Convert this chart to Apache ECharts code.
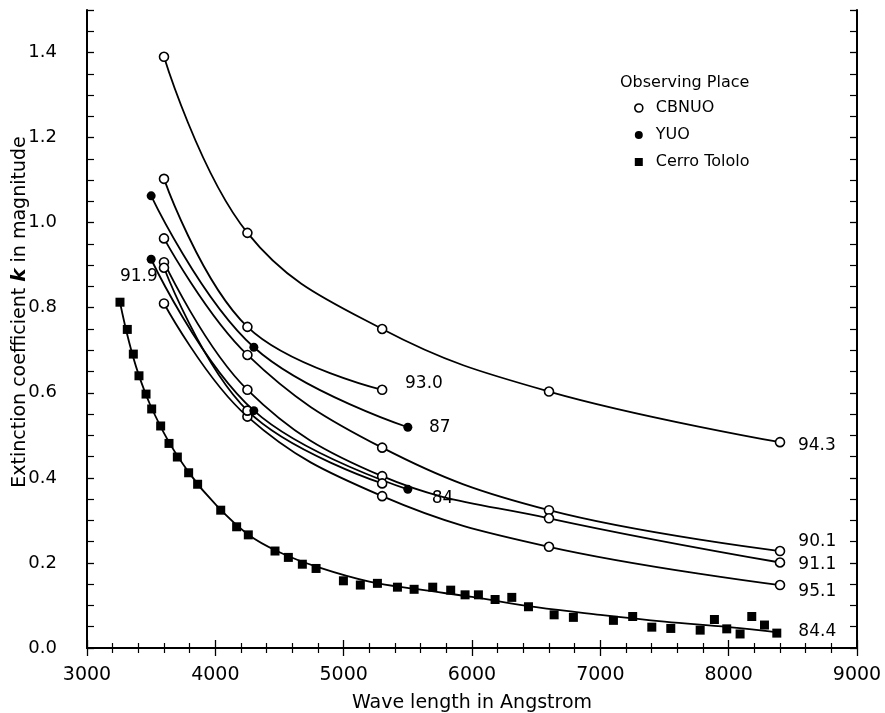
<!DOCTYPE html>
<html>
<head>
<meta charset="utf-8">
<title>Extinction coefficient</title>
<script src="https://cdn.jsdelivr.net/npm/echarts@6/dist/echarts.min.js"></script>
<style>
  html, body { margin: 0; padding: 0; background: #fff; }
  #chart { width: 885px; height: 713px; }
</style>
</head>
<body>
<div id="chart"></div>
<script>
// CBNUO curves (open circles)
const cbnuoWave = [3600, 4250, 5300, 6600, 8400];
const cbnuo943 = [1.39, 0.976, 0.750, 0.603, 0.484];
const cbnuo930 = [1.103, 0.755, 0.607];
const cbnuo901 = [0.963, 0.689, 0.471, 0.324, 0.228];
const cbnuo911 = [0.907, 0.607, 0.404, 0.305, 0.201];
const cbnuo951 = [0.810, 0.544, 0.357, 0.238, 0.148];
const cbnuo919 = [0.894, 0.558, 0.387];

// YUO curves (filled circles)
const yuoWave = [3500, 4300, 5500];
const yuo87 = [1.063, 0.707, 0.519];
const yuo84 = [0.914, 0.558, 0.373];

// Cerro Tololo (squares)
const ctWave = [3257, 3314, 3361, 3405, 3460, 3504, 3574, 3639, 3704, 3792, 3862, 4042, 4166, 4257, 4465, 4569, 4678, 4785, 4998, 5130,
  5263, 5419, 5549, 5694, 5834, 5946, 6050, 6180, 6310, 6440, 6640, 6790, 7102, 7252, 7401, 7549, 7778, 7889, 7985, 8089, 8180, 8279, 8375];
const ctK = [0.813, 0.749, 0.691, 0.640, 0.597, 0.562, 0.522, 0.481, 0.449, 0.412, 0.385, 0.324, 0.285, 0.266, 0.228, 0.213, 0.197, 0.187, 0.158, 0.148,
  0.152, 0.143, 0.138, 0.143, 0.136, 0.125, 0.125, 0.114, 0.119, 0.097, 0.078, 0.072, 0.065, 0.074, 0.049, 0.046, 0.042, 0.067, 0.045, 0.033, 0.074, 0.054, 0.035];
// fitted curve through the Cerro Tololo points
const ctFitWave = [3257, 3400, 3600, 3800, 4000, 4250, 4500, 4800, 5200, 5600, 6000, 6500, 7000, 7500, 8000, 8400];
const ctFitK = [0.813, 0.645, 0.505, 0.41, 0.338, 0.268, 0.225, 0.19, 0.156, 0.137, 0.12, 0.096, 0.078, 0.062, 0.049, 0.036];

// curve labels
const noteText = ['94.3', '93.0', '87', '84', '91.9', '90.1', '91.1', '95.1', '84.4'];
const noteWave = [8540, 5478, 5665, 5686, 3257, 8543, 8543, 8543, 8543];
const noteK = [0.477, 0.622, 0.519, 0.352, 0.873, 0.250, 0.195, 0.132, 0.038];

const xTicks = [3000, 4000, 5000, 6000, 7000, 8000, 9000];
const yTicks = [0, 0.2, 0.4, 0.6, 0.8, 1.0, 1.2, 1.4];

const FONT = 'DejaVu Sans';
const zip = (xs, ys) => xs.map((x, i) => [x, ys[i]]);

const chart = echarts.init(document.getElementById('chart'));

const openCircle = { color: '#fff', borderColor: '#000', borderWidth: 1.6, opacity: 1 };
const solid = { color: '#000', opacity: 1 };
const lineStyle = { color: '#000', width: 1.8 };

function curve(name, xs, ys, itemStyle) {
  return {
    name: name,
    type: 'line',
    smooth: 0.4,
    data: zip(xs, ys),
    symbol: 'circle',
    symbolSize: 9,
    showAllSymbol: true,
    lineStyle: lineStyle,
    itemStyle: itemStyle,
    z: 3
  };
}

const series = [
  curve('CBNUO', cbnuoWave, cbnuo943, openCircle),
  curve('CBNUO', cbnuoWave.slice(0, 3), cbnuo930, openCircle),
  curve('CBNUO', cbnuoWave, cbnuo901, openCircle),
  curve('CBNUO', cbnuoWave, cbnuo911, openCircle),
  curve('CBNUO', cbnuoWave, cbnuo951, openCircle),
  curve('CBNUO', cbnuoWave.slice(0, 3), cbnuo919, openCircle),
  curve('YUO', yuoWave, yuo87, solid),
  curve('YUO', yuoWave, yuo84, solid),
  {
    name: 'fit', type: 'line', smooth: 0.4, symbol: 'none',
    data: zip(ctFitWave, ctFitK), lineStyle: lineStyle, z: 2
  },
  {
    name: 'Cerro Tololo', type: 'scatter', symbol: 'rect', symbolSize: 9,
    data: zip(ctWave, ctK), itemStyle: solid, z: 4
  },
  {
    name: 'notes', type: 'scatter', symbolSize: 0, silent: true,
    data: noteText.map((t, i) => ({ value: [noteWave[i], noteK[i]], name: t })),
    itemStyle: { opacity: 1 },
    label: {
      show: true, position: 'right', distance: 0, formatter: '{b}',
      color: '#000', opacity: 1, fontFamily: FONT, fontSize: 17
    }
  }
];

chart.setOption({
  backgroundColor: '#fff',
  animation: false,
  textStyle: { fontFamily: FONT, color: '#000' },
  grid: { left: 87, right: 28, top: 10, bottom: 65, containLabel: false, outerBoundsMode: 'none' },
  legend: {
    orient: 'vertical',
    left: 629, top: 95,
    itemGap: 11,
    itemWidth: 8, itemHeight: 8,
    textStyle: { fontFamily: FONT, fontSize: 16, color: '#000', padding: [0, 0, 0, 8] },
    selectedMode: false,
    data: [
      { name: 'CBNUO', icon: 'circle', itemStyle: { color: '#fff', borderColor: '#000', borderWidth: 1.6, opacity: 1 } },
      { name: 'YUO', icon: 'circle', itemStyle: solid },
      { name: 'Cerro Tololo', icon: 'rect', itemStyle: solid }
    ]
  },
  graphic: [{
    type: 'text', left: 620, top: 75,
    style: { text: 'Observing Place', font: '16px "DejaVu Sans"', fill: '#000' }
  }, {
    // y axis title, rotated
    type: 'text', x: 20, y: 312, rotation: Math.PI / 2,
    style: {
      text: '{a|Extinction coefficient }{k|k}{a| in magnitude}',
      align: 'center', verticalAlign: 'middle',
      rich: {
        a: { fontSize: 19, fontFamily: FONT, fill: '#000' },
        k: { fontSize: 20, fontFamily: FONT, fill: '#000', fontWeight: 'bold', fontStyle: 'italic' }
      }
    }
  }],
  xAxis: [{
    type: 'value', min: 3000, max: 9000, interval: 1000,
    name: 'Wave length in Angstrom', nameLocation: 'middle', nameGap: 46,
    nameTextStyle: { fontSize: 19, fontFamily: FONT, color: '#000' },
    axisLine: { lineStyle: { color: '#000', width: 2 } },
    axisTick: { inside: true, length: 8, lineStyle: { color: '#000', width: 1.3 } },
    minorTick: { show: true, splitNumber: 5, length: 5, lineStyle: { color: '#000', width: 1.2 } },
    axisLabel: { fontSize: 19, color: '#000', fontFamily: FONT, margin: 18,
      formatter: v => xTicks.includes(v) ? String(v) : '' },
    splitLine: { show: false }
  }, {
    type: 'value', min: 3000, max: 9000, interval: 1000, position: 'top',
    axisLine: { lineStyle: { color: '#000', width: 2 } },
    axisTick: { inside: true, length: 8, lineStyle: { color: '#000', width: 1.3 } },
    minorTick: { show: true, splitNumber: 5, length: 5, lineStyle: { color: '#000', width: 1.2 } },
    axisLabel: { show: false },
    splitLine: { show: false }
  }],
  yAxis: [{
    type: 'value', min: 0, max: 1.5, interval: 0.2,
    axisLine: { show: true, lineStyle: { color: '#000', width: 2 } },
    axisTick: { inside: true, length: 7, lineStyle: { color: '#000', width: 1.3 } },
    minorTick: { show: true, splitNumber: 4, length: 7, lineStyle: { color: '#000', width: 1.2 } },
    axisLabel: { fontSize: 18, color: '#000', fontFamily: FONT, margin: 30,
      formatter: v => yTicks.some(t => Math.abs(t - v) < 1e-6) ? v.toFixed(1) : '' },
    splitLine: { show: false }
  }, {
    type: 'value', min: 0, max: 1.5, interval: 0.2, position: 'right',
    axisLine: { show: true, lineStyle: { color: '#000', width: 2 } },
    axisTick: { inside: true, length: 7, lineStyle: { color: '#000', width: 1.3 } },
    minorTick: { show: true, splitNumber: 4, length: 7, lineStyle: { color: '#000', width: 1.2 } },
    axisLabel: { show: false },
    splitLine: { show: false }
  }],
  series: series
});
</script>
</body>
</html>
